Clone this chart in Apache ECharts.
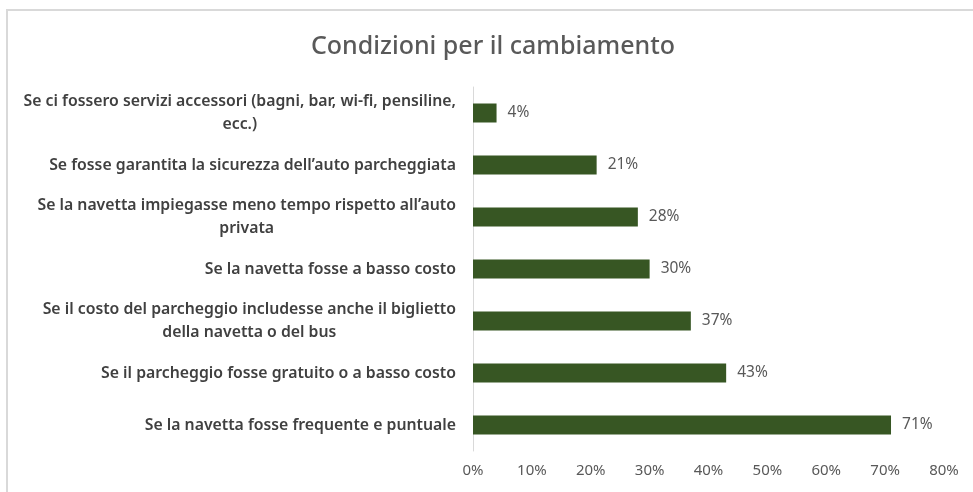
<!DOCTYPE html>
<html>
<head>
<meta charset="utf-8">
<title>Condizioni per il cambiamento</title>
<script src="https://cdn.jsdelivr.net/npm/echarts@6/dist/echarts.min.js"></script>
<style>
    html, body {
        margin: 0;
        padding: 0;
        background: #ffffff;
    }

    #chart {
        width: 973px;
        height: 492px;
    }
</style>
</head>
<body>
<div id="chart"></div>
<script>
// Chart data
const categories = [
    'Se ci fossero servizi accessori (bagni, bar, wi-fi, pensiline,\necc.)',
    'Se fosse garantita la sicurezza dell\u2019auto parcheggiata',
    'Se la navetta impiegasse meno tempo rispetto all\u2019auto\nprivata',
    'Se la navetta fosse a basso costo',
    'Se il costo del parcheggio includesse anche il biglietto\ndella navetta o del bus',
    'Se il parcheggio fosse gratuito o a basso costo',
    'Se la navetta fosse frequente e puntuale'
];
const values = [4, 21, 28, 30, 37, 43, 71];
const xTicks = [0, 10, 20, 30, 40, 50, 60, 70, 80];

const fontFamily = '"Noto Sans", "Open Sans", sans-serif';
const chart = echarts.init(document.getElementById('chart'));

chart.setOption({
    animation: false,
    title: {
        text: 'Condizioni per il cambiamento',
        left: 488,
        top: 29,
        textAlign: 'center',
        textStyle: {
            fontFamily: fontFamily,
            fontSize: 25,
            fontWeight: 500,
            color: '#595959'
        }
    },
    grid: {
        left: 473,
        right: 29,
        top: 87,
        bottom: 41
    },
    xAxis: {
        type: 'value',
        min: xTicks[0],
        max: xTicks[xTicks.length - 1],
        interval: 10,
        axisLine: { show: false },
        axisTick: { show: false },
        splitLine: { show: false },
        axisLabel: {
            margin: 12,
            fontFamily: fontFamily,
            fontSize: 15,
            color: '#595959',
            formatter: (v) => v + '%'
        }
    },
    yAxis: {
        type: 'category',
        inverse: true,
        data: categories,
        axisLine: { lineStyle: { color: '#d9d9d9', width: 1 } },
        axisTick: { show: false },
        axisLabel: {
            margin: 17,
            align: 'right',
            formatter: (v) => v.split('\n').map((line) => '{c|' + line + '}').join('\n'),
            rich: {
                c: {
                    align: 'center',
                    fontFamily: fontFamily,
                    fontSize: 15.8,
                    fontWeight: 600,
                    color: '#404040',
                    lineHeight: 23
                }
            }
        }
    },
    series: [
        {
            type: 'bar',
            data: values,
            barWidth: 19,
            itemStyle: { color: '#375623' },
            label: {
                show: true,
                position: 'right',
                distance: 11,
                fontFamily: fontFamily,
                fontSize: 15.5,
                color: '#595959',
                formatter: (p) => p.value + '%'
            }
        }
    ],
    graphic: [
        {
            type: 'line',
            shape: { x1: 6, y1: 10, x2: 973, y2: 10 },
            style: { stroke: '#d9d9d9', lineWidth: 2 },
            silent: true
        },
        {
            type: 'line',
            shape: { x1: 7, y1: 10, x2: 7, y2: 492 },
            style: { stroke: '#d9d9d9', lineWidth: 2 },
            silent: true
        }
    ]
});

window.addEventListener('resize', () => chart.resize());
</script>
</body>
</html>
